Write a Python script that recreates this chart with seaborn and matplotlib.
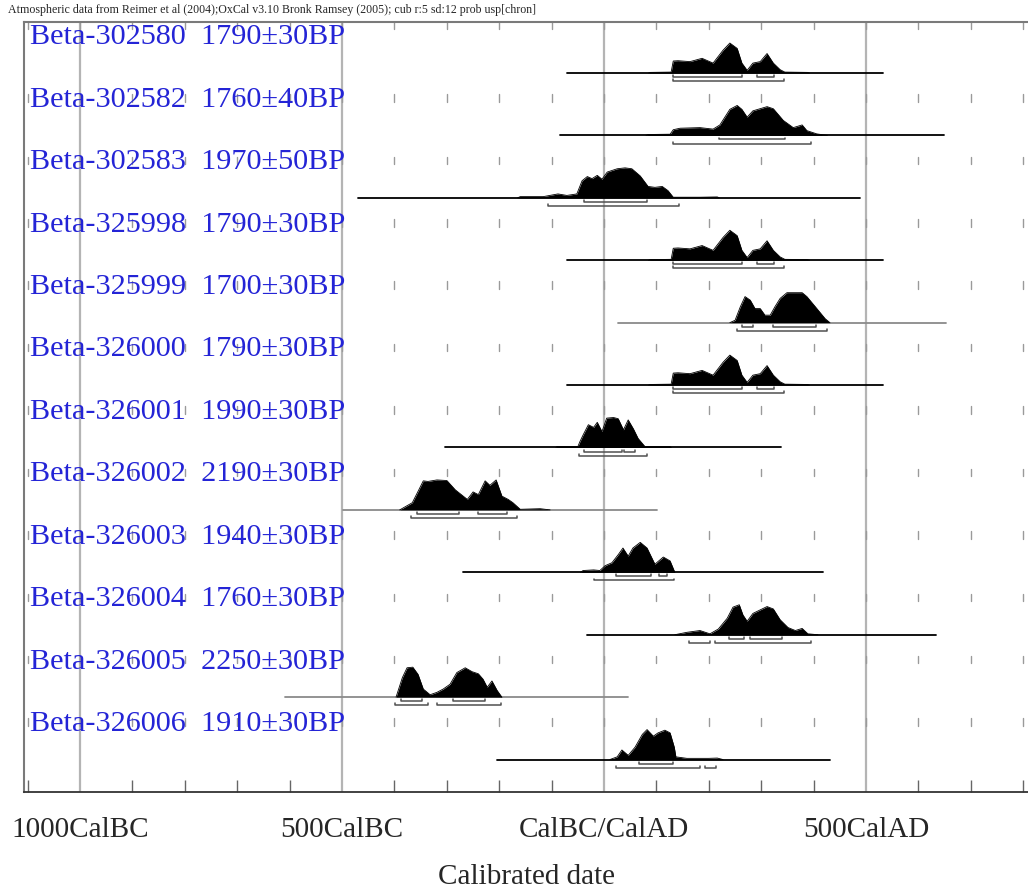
import numpy as np
import pandas as pd
import matplotlib
matplotlib.use("Agg")
import matplotlib.pyplot as plt
import seaborn as sns

# dados (anos calibrados, BC negativo) --------------------------------------------------
lab_codes = ["Beta-302580", "Beta-302582", "Beta-302583", "Beta-325998", "Beta-325999",
             "Beta-326000", "Beta-326001", "Beta-326002", "Beta-326003", "Beta-326004",
             "Beta-326005", "Beta-326006"]
bp_dates = ["1790±30BP", "1760±40BP", "1970±50BP", "1790±30BP", "1700±30BP",
            "1790±30BP", "1990±30BP", "2190±30BP", "1940±30BP", "1760±30BP",
            "2250±30BP", "1910±30BP"]

# perfis de probabilidade (altura relativa ao pico)
p1790_yr = [85, 88, 128, 132, 141, 164, 187, 208, 227, 240, 254, 263, 273, 284, 298, 311, 323, 336, 345, 388, 392]
p1790_h = [0, 0.02, 0.03, 0.40, 0.41, 0.38, 0.49, 0.33, 0.76, 1.00, 0.82, 0.33, 0.09, 0.33, 0.38, 0.65, 0.33, 0.11, 0.03, 0.02, 0]
p1760a_yr = [80, 84, 126, 132, 145, 183, 208, 221, 240, 254, 263, 273, 284, 311, 323, 342, 361, 378, 387, 406, 426]
p1760a_h = [0, 0.03, 0.04, 0.19, 0.24, 0.26, 0.21, 0.35, 0.87, 1.0, 0.87, 0.61, 0.82, 0.96, 0.89, 0.5, 0.26, 0.35, 0.16, 0.05, 0]
p1970_yr = [-165, -160, -128, -116, -88, -71, -52, -42, -32, -23, -13, -4, 6, 25, 40, 53, 69, 84, 97, 111, 122, 132, 183, 216, 220]
p1970_h = [0, 0.04, 0.04, 0.04, 0.13, 0.08, 0.13, 0.57, 0.71, 0.64, 0.75, 0.62, 0.86, 0.97, 1.0, 0.97, 0.73, 0.38, 0.35, 0.38, 0.24, 0.02, 0.02, 0.03, 0]
p1700_yr = [240, 250, 260, 269, 279, 288, 298, 307, 317, 326, 336, 349, 378, 387, 406, 422, 431]
p1700_h = [0, 0.08, 0.53, 0.87, 0.75, 0.47, 0.47, 0.25, 0.25, 0.53, 0.81, 1.0, 1.0, 0.87, 0.47, 0.13, 0]
p1990_yr = [-92, -90, -65, -50, -46, -40, -30, -20, -13, -4, 5, 18, 27, 37, 46, 56, 65, 78, 103, 126, 128]
p1990_h = [0, 0.03, 0.03, 0.03, 0.2, 0.42, 0.76, 0.67, 0.84, 0.53, 0.98, 1.0, 0.96, 0.59, 0.92, 0.62, 0.3, 0.03, 0.03, 0.03, 0]
p2190_yr = [-390, -385, -366, -355, -345, -336, -319, -300, -284, -261, -250, -240, -227, -218, -206, -195, -183, -174, -160, -122, -103]
p2190_h = [0, 0.05, 0.24, 0.62, 0.97, 0.95, 1.0, 0.98, 0.67, 0.35, 0.6, 0.51, 0.97, 0.82, 1.0, 0.46, 0.35, 0.24, 0.02, 0.04, 0]
p1940_yr = [-45, -40, -20, -8, 2, 15, 27, 36, 46, 55, 69, 82, 97, 113, 126, 135]
p1940_h = [0, 0.06, 0.08, 0.06, 0.22, 0.32, 0.59, 0.81, 0.54, 0.81, 1.0, 0.81, 0.27, 0.51, 0.38, 0]
p1760b_yr = [135, 158, 183, 202, 218, 235, 246, 258, 265, 273, 284, 298, 311, 323, 336, 351, 365, 378, 389, 408]
p1760b_h = [0, 0.08, 0.14, 0.03, 0.19, 0.55, 0.92, 1.0, 0.66, 0.45, 0.71, 0.83, 0.94, 0.86, 0.5, 0.24, 0.14, 0.21, 0.03, 0]
p2250_yr = [-397, -385, -376, -365, -355, -345, -332, -319, -307, -294, -281, -265, -252, -240, -231, -223, -214, -204, -195]
p2250_h = [0, 0.65, 0.98, 1.0, 0.76, 0.27, 0.08, 0.16, 0.27, 0.43, 0.82, 0.98, 0.85, 0.78, 0.6, 0.33, 0.54, 0.22, 0]
p1910_yr = [11, 25, 34, 46, 59, 73, 82, 94, 103, 116, 126, 134, 137, 158, 200, 216, 227]
p1910_h = [0, 0.09, 0.32, 0.14, 0.41, 0.84, 1.0, 0.78, 0.89, 0.98, 0.89, 0.41, 0.09, 0.04, 0.04, 0.05, 0]

profiles = [(p1790_yr, p1790_h), (p1760a_yr, p1760a_h), (p1970_yr, p1970_h), (p1790_yr, p1790_h),
            (p1700_yr, p1700_h), (p1790_yr, p1790_h), (p1990_yr, p1990_h), (p2190_yr, p2190_h),
            (p1940_yr, p1940_h), (p1760b_yr, p1760b_h), (p2250_yr, p2250_h), (p1910_yr, p1910_h)]

# linha de base de cada amostra
line_start = [-71, -84, -469, -71, 27, -71, -303, -498, -269, -32, -609, -204]
line_end = [532, 649, 489, 532, 653, 532, 338, 101, 418, 634, 46, 431]
line_gray = [False, False, False, False, True, False, False, True, False, False, True, False]

# intervalos 68.2% e 95.4%
ranges_68 = [[(132, 263), (292, 324)], [(219, 345)], [(-38, 82)], [(132, 263), (292, 324)],
             [(263, 284), (323, 405)], [(132, 263), (292, 324)], [(-38, 34), (38, 59)],
             [(-357, -277), (-240, -185)], [(23, 90), (105, 120)], [(239, 267), (279, 340)],
             [(-387, -347), (-288, -227)], [(67, 132)]]
ranges_95 = [[(132, 344)], [(132, 395)], [(-107, 143)], [(132, 344)], [(254, 426)], [(132, 344)],
             [(-48, 82)], [(-368, -166)], [(-19, 134)], [(162, 202), (212, 395)],
             [(-399, -336), (-319, -197)], [(23, 183), (193, 214)]]

tick_pos = [-1000, -500, 0, 500]
tick_labels = ["1000CalBC", "500CalBC", "CalBC/CalAD", "500CalAD"]

# grafico -------------------------------------------------------------------------------
sns.set_theme(style="white")
plt.rcParams["font.family"] = ["Liberation Serif", "DejaVu Serif"]

fig = plt.figure(figsize=(10.28, 8.90), dpi=100)
ax = fig.add_axes([24 / 1028, 1 - 792 / 890, 1 - 24 / 1028, (792 - 22) / 890])

scale = 0.48  # altura do pico em unidades de linha
n = len(lab_codes)

rows = []
for i, (yr, h) in enumerate(profiles):
    for a, b in zip(yr, h):
        rows.append({"row": i, "year": a, "y": i - b * scale})
df = pd.DataFrame(rows)

for x in tick_pos:
    ax.axvline(x, color="#b4b4b4", lw=1.6, zorder=0)

# pequenas marcas a cada 100 anos entre as linhas
for i in range(1, n):
    for x in range(-1100, 801, 100):
        ax.plot([x, x], [i - 0.66, i - 0.54], color="#9a9a9a", lw=1.0, zorder=1)
for x in range(-1100, 801, 100):
    ax.plot([x, x], [-0.817, -0.70], color="#9a9a9a", lw=1.0, zorder=1)

for i in range(n):
    yr, h = profiles[i]
    ax.plot([line_start[i], line_end[i]], [i, i],
            color="#8a8a8a" if line_gray[i] else "black", lw=1.3, zorder=2)
    ax.fill_between(yr, i, [i - v * scale for v in h], color="black", lw=0, zorder=3)
    for lev, rng in ((0.065, ranges_68[i]), (0.13, ranges_95[i])):
        for a, b in rng:
            ax.plot([a, a, b, b], [i + lev - 0.03, i + lev, i + lev, i + lev - 0.03],
                    color="#505050", lw=1.1, zorder=2)
    ax.text(-1095, i - 0.57, lab_codes[i] + "  " + bp_dates[i], color="#2424d6",
            fontsize=21.8, va="center", ha="left", zorder=4)

sns.lineplot(data=df, x="year", y="y", units="row", estimator=None,
             color="black", lw=0.6, ax=ax, zorder=3)

ax.set_xlim(-1107, 809)
ax.set_ylim(11.52, -0.817)
ax.set_xticks(tick_pos)
ax.set_xticklabels(tick_labels, fontsize=21)
ax.set_xticks(range(-1100, 801, 100), minor=True)
ax.tick_params(axis="x", which="major", length=0, pad=18)
ax.tick_params(axis="x", which="minor", direction="in", length=9, width=1, color="#666666", bottom=True)
ax.set_yticks([])
ax.set_xlabel("")
ax.set_ylabel("")
ax.spines["right"].set_visible(False)
ax.spines["left"].set_color("#7a7a7a")
ax.spines["left"].set_linewidth(1.5)
ax.spines["top"].set_color("#7a7a7a")
ax.spines["top"].set_linewidth(1.5)
ax.spines["bottom"].set_color("#333333")
ax.spines["bottom"].set_linewidth(1.3)

fig.text(8 / 1028, 1 - 10 / 890,
         "Atmospheric data from Reimer et al (2004);OxCal v3.10 Bronk Ramsey (2005); cub r:5 sd:12 prob usp[chron]",
         fontsize=8.6, va="center", ha="left")
fig.text(527 / 1028, 1 - 877 / 890, "Calibrated date", fontsize=21, va="center", ha="center")

fig.savefig("out.png", dpi=100)
